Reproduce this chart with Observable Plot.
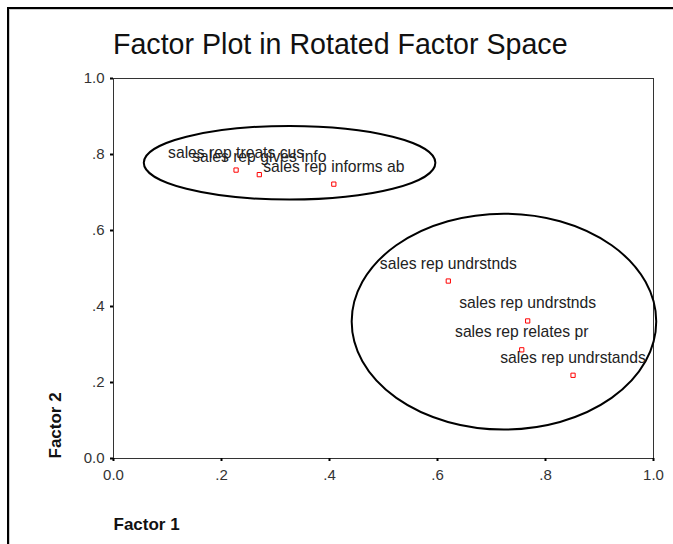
<!DOCTYPE html>
<html><head><meta charset="utf-8">
<script src="https://cdn.jsdelivr.net/npm/d3@7"></script>
<script src="https://cdn.jsdelivr.net/npm/@observablehq/plot@0.6"></script>
<style>
html,body{margin:0;padding:0;background:#fff;}
#wrap{position:relative;width:673px;height:544px;overflow:hidden;font-family:Arial,"Liberation Sans",sans-serif;}
#border{position:absolute;left:7px;top:7px;width:720px;height:600px;border-left:2px solid #000;border-top:2px solid #000;box-sizing:border-box;}
#border2{position:absolute;left:9px;top:9px;width:720px;height:600px;border-left:1px solid #ccc;border-top:1px solid #ccc;box-sizing:border-box;}
#title{position:absolute;left:113px;top:30px;font-size:28.6px;line-height:1;color:#111;white-space:nowrap;}
#chart{position:absolute;left:0;top:60px;}
</style></head><body>
<div id="wrap"><div id="border"></div><div id="border2"></div><div id="title">Factor Plot in Rotated Factor Space</div><div id="chart"></div></div>
<script>
const labels = ["sales rep treats cus", "sales rep gives info", "sales rep informs ab", "sales rep undrstnds", "sales rep undrstnds", "sales rep relates pr", "sales rep undrstands"];
const factor1 = [0.227, 0.270, 0.408, 0.620, 0.767, 0.756, 0.851];
const factor2 = [0.759, 0.747, 0.722, 0.467, 0.362, 0.286, 0.219];
const tickValues = [0, 0.2, 0.4, 0.6, 0.8, 1.0];
const tickLabels = ["0.0", ".2", ".4", ".6", ".8", "1.0"];
const ellipseCx = [0.327, 0.724];
const ellipseCy = [0.777, 0.359];
const ellipseRx = [0.270, 0.282];
const ellipseRy = [0.097, 0.284];

const points = labels.map((label, i) => ({label, f1: factor1[i], f2: factor2[i]}));
const fmt = d => tickLabels[tickValues.findIndex(t => Math.abs(t - d) < 1e-9)];

function ellipses(index, scales) {
  const {x, y} = scales;
  const g = d3.create("svg:g");
  ellipseCx.forEach((cx, i) => {
    g.append("ellipse")
      .attr("cx", x(cx)).attr("cy", y(ellipseCy[i]))
      .attr("rx", x(cx + ellipseRx[i]) - x(cx))
      .attr("ry", y(ellipseCy[i]) - y(ellipseCy[i] + ellipseRy[i]))
      .attr("fill", "none").attr("stroke", "#000").attr("stroke-width", 2);
  });
  return g.node();
}

const chart = Plot.plot({
  width: 673,
  height: 484,
  marginLeft: 113,
  marginRight: 20,
  marginTop: 18,
  marginBottom: 86,
  style: {fontFamily: "Arial, 'Liberation Sans', sans-serif", fontSize: "15px", background: "transparent", overflow: "visible"},
  x: {domain: [0, 1], label: null},
  y: {domain: [0, 1], label: null},
  marks: [
    Plot.frame({stroke: "#333"}),
    Plot.axisX({ticks: tickValues, tickFormat: fmt, tickSize: 3, tickPadding: 8, stroke: "#000", strokeWidth: 2, fill: "#333", fontSize: 15, label: null}),
    Plot.axisY({ticks: tickValues, tickFormat: fmt, tickSize: 3, tickPadding: 6, stroke: "#000", strokeWidth: 2, fill: "#333", fontSize: 15, label: null}),
    ellipses,
    Plot.dot(points, {x: "f1", y: "f2", symbol: "square", r: 2.4, stroke: "#ff0000", strokeWidth: 1, fill: "none"}),
    Plot.text(points, {x: "f1", y: "f2", text: "label", dy: -12.5, lineAnchor: "bottom", textAnchor: "middle", fontSize: 15.7, fill: "#222"}),
    Plot.text(["Factor 1"], {frameAnchor: "bottom-left", text: d => d, dy: 71, lineAnchor: "bottom", textAnchor: "start", fontSize: 17, fontWeight: "bold", fill: "#111"}),
    Plot.text(["Factor 2"], {frameAnchor: "bottom-left", text: d => d, dx: -58, rotate: -90, lineAnchor: "middle", textAnchor: "start", fontSize: 17, fontWeight: "bold", fill: "#111"})
  ]
});
document.getElementById("chart").appendChild(chart);
</script>
</body></html>
